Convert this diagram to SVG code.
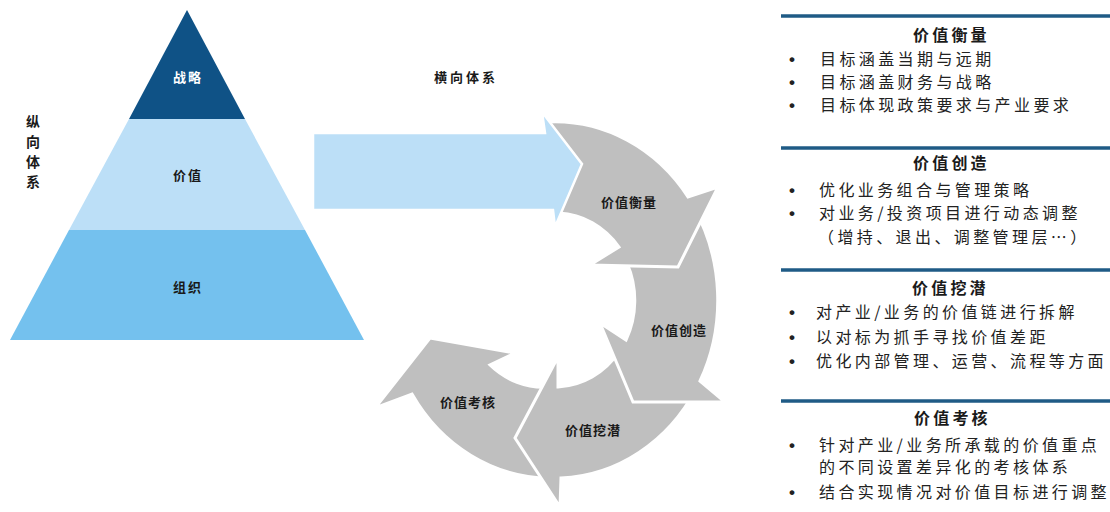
<svg xmlns="http://www.w3.org/2000/svg" width="1110" height="512" viewBox="0 0 1110 512">
<style>
text{font-family:"Noto Sans CJK SC","Noto Sans",sans-serif;fill:#1a1a1a}
.lbl{font-size:13px;font-weight:bold;letter-spacing:1px;text-anchor:middle}
.pyr{font-size:13px;font-weight:bold;letter-spacing:2px;text-anchor:middle}
.ttl{font-size:16px;font-weight:bold;letter-spacing:3.2px}
.itm{font-size:16px;letter-spacing:3.4px;fill:#222}
.bul{font-family:"Liberation Sans",Arial,sans-serif;font-size:17px;font-weight:bold;fill:#222}
.gray{fill:#bfbfbf;stroke:#fff;stroke-width:3;stroke-linejoin:miter}
.hdr{stroke:#1f5b86;stroke-width:3.5}
</style>
<rect width="1110" height="512" fill="#fff"/>

<!-- Pyramid -->
<g id="tier-strategy">
<polygon points="187,10 245,119 129,119" fill="#0f5286"/>
<text class="pyr" x="188" y="82" style="fill:#fff">战略</text>
</g>
<g id="tier-value">
<polygon points="129,119 245,119 305,230 69,230" fill="#bcdff7"/>
<text class="pyr" x="188" y="180">价值</text>
</g>
<g id="tier-organization">
<polygon points="69,230 305,230 364,340 10,340" fill="#74c1ee"/>
<text class="pyr" x="188" y="292">组织</text>
</g>
<g id="label-vertical">
<text x="33" y="127" style="font-size:14px;font-weight:bold;text-anchor:middle">纵</text>
<text x="33" y="147" style="font-size:14px;font-weight:bold;text-anchor:middle">向</text>
<text x="33" y="167" style="font-size:14px;font-weight:bold;text-anchor:middle">体</text>
<text x="33" y="187" style="font-size:14px;font-weight:bold;text-anchor:middle">系</text>
</g>
<g id="label-horizontal">
<text x="466" y="82" style="font-size:13px;font-weight:bold;letter-spacing:3px;text-anchor:middle">横向体系</text>
</g>

<!-- Cycle -->
<g id="cycle-assess">
<path class="gray" d="M549,478 A163,178 0 0 1 412,394 L375,408 L430,338 L515,353 L490,365 A80,87 0 0 0 548,387 Z"/>
<text class="lbl" x="468" y="407">价值考核</text>
</g>
<g id="cycle-potential">
<path class="gray" d="M696,389 A163,178 0 0 1 561,478 L560,507 L515,438 L558,357 L558,387 A80,87 0 0 0 619,352 Z"/>
<text class="lbl" x="593" y="435">价值挖潜</text>
</g>
<g id="cycle-create">
<path class="gray" d="M693,206 A163,178 0 0 1 700,381 L725,402 L633,402 L600,323 L626,340 A80,87 0 0 0 627,263 Z"/>
<text class="lbl" x="679" y="335">价值创造</text>
</g>
<g id="cycle-measure">
<path class="gray" d="M549,122 A163,178 0 0 1 688,197 L718,187 L678,267 L590,265 L619,247 A80,87 0 0 0 559,213 L578,165 Z"/>
<text class="lbl" x="629" y="207">价值衡量</text>
</g>

<!-- Connectors -->
<g id="connectors">
<path d="M313,133 L545,133 L542,112 L582,164 L555,227 L553,210 L313,210 Z" fill="#bcdff7" stroke="#fff" stroke-width="2.5" stroke-linejoin="miter"/>
</g>

<!-- Right panel -->
<g id="panel-measure">
<line class="hdr" x1="781" y1="16" x2="1110" y2="16"/>
<text class="ttl" x="913" y="41">价值衡量</text>
<text class="bul" x="789" y="65">•</text>
<text class="itm" x="820" y="65">目标涵盖当期与远期</text>
<text class="bul" x="789" y="88">•</text>
<text class="itm" x="820" y="88">目标涵盖财务与战略</text>
<text class="bul" x="789" y="111">•</text>
<text class="itm" x="820" y="111">目标体现政策要求与产业要求</text>
</g>
<g id="panel-create">
<line class="hdr" x1="781" y1="148" x2="1110" y2="148"/>
<text class="ttl" x="913" y="169">价值创造</text>
<text class="bul" x="789" y="196">•</text>
<text class="itm" x="819" y="196">优化业务组合与管理策略</text>
<text class="bul" x="789" y="219">•</text>
<text class="itm" x="819" y="219">对业务/投资项目进行动态调整</text>
<text class="itm" x="818" y="243">（增持、退出、调整管理层…）</text>
</g>
<g id="panel-potential">
<line class="hdr" x1="781" y1="270" x2="1110" y2="270"/>
<text class="ttl" x="912" y="294">价值挖潜</text>
<text class="bul" x="789" y="318">•</text>
<text class="itm" x="816" y="318">对产业/业务的价值链进行拆解</text>
<text class="bul" x="789" y="343">•</text>
<text class="itm" x="816" y="343">以对标为抓手寻找价值差距</text>
<text class="bul" x="789" y="367">•</text>
<text class="itm" x="816" y="367">优化内部管理、运营、流程等方面</text>
</g>
<g id="panel-assess">
<line class="hdr" x1="781" y1="401" x2="1110" y2="401"/>
<text class="ttl" x="914" y="424">价值考核</text>
<text class="bul" x="789" y="451">•</text>
<text class="itm" x="819" y="451">针对产业/业务所承载的价值重点</text>
<text class="itm" x="819" y="473">的不同设置差异化的考核体系</text>
<text class="bul" x="789" y="498">•</text>
<text class="itm" x="819" y="498">结合实现情况对价值目标进行调整</text>
</g>
</svg>
